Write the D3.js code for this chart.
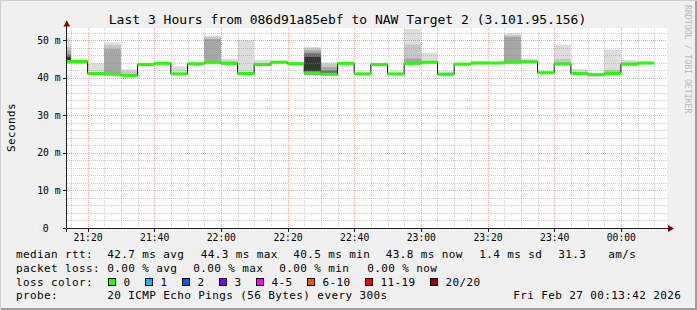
<!DOCTYPE html>
<html><head><meta charset="utf-8">
<script src="https://cdn.jsdelivr.net/npm/d3@7"></script>
<style>
body{margin:0;background:#f0f0f0}
svg{display:block}
text{font-family:"DejaVu Sans Mono",monospace}
</style>
</head><body><svg id="c" width="697" height="310"></svg>
<script>
// ---- data ----
const binEnd = ["21:15","21:20","21:25","21:30","21:35","21:40","21:45","21:50","21:55","22:00",
  "22:05","22:10","22:15","22:20","22:25","22:30","22:35","22:40","22:45","22:50",
  "22:55","23:00","23:05","23:10","23:15","23:20","23:25","23:30","23:35","23:40",
  "23:45","23:50","23:55","00:00","00:05","00:10"];
const median  = [44.4,44.4,41.2,41.0,40.6,43.6,43.9,41.1,43.8,44.2,43.9,41.2,43.6,44.2,43.8,41.4,41.0,43.9,41.1,43.6,41.1,43.9,44.2,41.0,43.7,44.0,44.0,44.3,44.3,41.4,43.8,41.2,40.9,41.2,43.7,44.0];
const pingMin = [43.7,43.9,41.0,40.7,40.4,43.2,43.6,40.9,43.3,43.6,43.4,40.9,43.2,43.9,43.6,40.6,40.6,43.3,40.9,43.4,40.8,43.4,43.7,40.7,43.4,43.6,43.8,43.6,44.0,41.2,43.3,40.9,40.3,40.8,43.3,43.6];
const pingMax = [50.8,44.9,43.9,49.5,42.3,43.9,44.3,43.1,44.1,51.3,45.1,50.1,44.8,44.4,44.2,48.3,44.2,44.2,41.3,43.9,41.3,53.1,46.7,41.8,44.0,44.5,44.2,51.9,45.2,41.8,48.9,42.4,41.3,47.6,44.8,44.3];
const l2Lo = [43.9,44.1,41.1,40.9,40.5,null,43.7,null,null,43.8,43.6,41.0,43.4,null,43.7,40.8,40.7,null,null,null,null,43.6,null,40.9,null,43.8,null,43.8,44.1,null,43.5,41.1,null,41.0,43.5,43.8];
const l2Hi = [48.3,44.7,41.5,48.8,41.8,null,44.2,null,null,50.9,44.6,41.5,44.1,null,44.1,47.9,43.7,null,null,null,null,48.9,null,41.4,null,44.2,null,51.4,44.8,null,45.1,41.7,null,42.2,44.3,44.2];
const l3Lo = [44.0,null,null,41.0,40.6,null,43.8,null,null,43.9,43.8,null,null,null,null,40.9,40.8,null,null,null,null,43.7,null,40.95,null,null,null,43.9,44.2,null,null,null,null,41.1,null,null];
const l3Hi = [47.3,null,null,47.7,41.0,null,44.1,null,null,50.4,44.3,null,null,null,null,47.3,42.9,null,null,null,null,45.2,null,41.2,null,null,null,51.0,44.5,null,null,null,null,41.7,null,null];
const l4Lo = [44.1,null,null,null,null,null,null,null,null,null,null,null,null,null,null,41.0,40.9,null,null,null,null,null,null,null,null,null,null,null,null,null,null,null,null,null,null,null];
const l4Hi = [46.2,null,null,null,null,null,null,null,null,null,null,null,null,null,null,46.6,42.0,null,null,null,null,null,null,null,null,null,null,null,null,null,null,null,null,null,null,null];
const l5Lo = [44.3,null,null,null,null,null,null,null,null,null,null,null,null,null,null,41.1,40.95,null,null,null,null,null,null,null,null,null,null,null,null,null,null,null,null,null,null,null];
const l5Hi = [45.6,null,null,null,null,null,null,null,null,null,null,null,null,null,null,45.6,41.3,null,null,null,null,null,null,null,null,null,null,null,null,null,null,null,null,null,null,null];
const yTicks = [0,10,20,30,40,50];
const lossLabels = ["0","1","2","3","4-5","6-10","11-19","20/20"];
const lossColors = ["#26ff00","#00b8ff","#0059ff","#7e00ff","#ff00ff","#ff5500","#ff0000","#a10000"];
const title = "Last 3 Hours from 086d91a85ebf to NAW Target 2 (3.101.95.156)";

// ---- scales ----
const t0 = new Date(2026,1,26,21,13,42), t1 = new Date(2026,1,27,0,13,42);
const x = d3.scaleTime().domain([t0,t1]).range([66.5,666.5]);
const y = d3.scaleLinear().domain([0,53.333]).range([228,28]);
const parseT = s => { const [h,m] = s.split(":").map(Number); return h < 12 ? new Date(2026,1,27,h,m) : new Date(2026,1,26,h,m); };
const ends = binEnd.map(parseT);
const starts = ends.map(d => new Date(Math.max(+t0, +d - 300000)));

const svg = d3.select("#c");
// background and frame
svg.append("rect").attr("width",697).attr("height",310).attr("fill","#f0f0f0");
svg.append("path").attr("d","M0,309V0H697").attr("stroke","#cfcfcf").attr("stroke-width",2).attr("fill","none");
svg.append("path").attr("d","M1,309H696V1").attr("stroke","#9e9e9e").attr("stroke-width",2).attr("fill","none");
// canvas
svg.append("rect").attr("x",67).attr("y",28).attr("width",600).attr("height",200).attr("fill","#ffffff");

// smoke
const layers = [[pingMin,pingMax,"#dddddd"],[l2Lo,l2Hi,"#c6c6c6"],[l3Lo,l3Hi,"#a6a6a6"],[l4Lo,l4Hi,"#6e6e6e"],[l5Lo,l5Hi,"#363636"]];
const gS = svg.append("g");
layers.forEach(([lo,hi,col]) => {
  gS.selectAll(null).data(d3.range(binEnd.length).filter(i => lo[i] != null))
    .join("rect")
    .attr("x", i => x(starts[i])).attr("width", i => x(ends[i]) - x(starts[i]))
    .attr("y", i => y(hi[i])).attr("height", i => y(lo[i]) - y(hi[i]))
    .attr("fill", col);
});

// grid
const gG = svg.append("g").attr("shape-rendering","crispEdges");
const minorT = d3.timeMinute.every(5).range(t0,t1);
gG.selectAll(null).data(minorT.filter(d => d.getMinutes() % 20 !== 0)).join("line")
  .attr("x1", d => Math.round(x(d))+0.5).attr("x2", d => Math.round(x(d))+0.5).attr("y1",28).attr("y2",228)
  .attr("stroke","rgba(140,140,140,0.45)").attr("stroke-dasharray","1,1");
gG.selectAll(null).data(d3.range(2,54,2).filter(v => v % 10 !== 0)).join("line")
  .attr("y1", d => Math.round(y(d))+0.5).attr("y2", d => Math.round(y(d))+0.5).attr("x1",67).attr("x2",667)
  .attr("stroke","rgba(140,140,140,0.45)").attr("stroke-dasharray","1,1");
const majorT = d3.timeMinute.every(20).range(t0,t1);
gG.selectAll(null).data(majorT).join("line")
  .attr("x1", d => Math.round(x(d))+0.5).attr("x2", d => Math.round(x(d))+0.5).attr("y1",28).attr("y2",228)
  .attr("stroke","rgba(235,60,60,0.45)").attr("stroke-dasharray","1,1");
gG.selectAll(null).data(yTicks.filter(v => v > 0)).join("line")
  .attr("y1", d => Math.round(y(d))+0.5).attr("y2", d => Math.round(y(d))+0.5).attr("x1",67).attr("x2",667)
  .attr("stroke","rgba(235,60,60,0.45)").attr("stroke-dasharray","1,1");

// median line (black step) and loss-coloured segments
const pts = median.map((m,i) => [x(starts[i]), y(m)]);
pts.push([x(ends[ends.length-1]), y(median[median.length-1])]);
svg.append("path").attr("d", d3.line().curve(d3.curveStepAfter)(pts))
  .attr("fill","none").attr("stroke","#202020").attr("stroke-width",1);
svg.append("g").selectAll("line").data(median).join("line")
  .attr("x1",(d,i) => x(starts[i])).attr("x2",(d,i) => x(ends[i]))
  .attr("y1", d => y(d)).attr("y2", d => y(d))
  .attr("stroke", lossColors[0]).attr("stroke-width",3);

// axes
const gA = svg.append("g").attr("shape-rendering","crispEdges");
gA.append("line").attr("x1",66.5).attr("x2",66.5).attr("y1",232).attr("y2",25).attr("stroke","#202020");
gA.append("line").attr("x1",63).attr("x2",669).attr("y1",228.5).attr("y2",228.5).attr("stroke","#202020");
gA.selectAll(null).data(yTicks).join("line")
  .attr("x1",63).attr("x2",67).attr("y1", d => Math.round(y(d))+0.5).attr("y2", d => Math.round(y(d))+0.5).attr("stroke","#202020");
gA.selectAll(null).data(majorT).join("line")
  .attr("x1", d => Math.round(x(d))+0.5).attr("x2", d => Math.round(x(d))+0.5).attr("y1",228).attr("y2",232).attr("stroke","#202020");
svg.append("path").attr("d","M63.5,26.5L66.8,20.5L70,26.5Z").attr("fill","#800000");
svg.append("path").attr("d","M668,225L674,228.5L668,232Z").attr("fill","#800000");

// tick labels
svg.append("g").selectAll("text").data(yTicks).join("text")
  .attr("x", d => d === 0 ? 48.5 : 60.5).attr("y", d => y(d)+3.5).attr("text-anchor","end")
  .attr("font-size","9.7px").attr("fill","#000").text(d => d === 0 ? "0" : d + " m");
svg.append("g").selectAll("text").data(majorT).join("text")
  .attr("x", d => x(d)+0.5).attr("y",241).attr("text-anchor","middle")
  .attr("font-size","9.7px").attr("fill","#000").text(d => d3.timeFormat("%H:%M")(d));

// title, labels
svg.append("text").attr("x",347.5).attr("y",24).attr("text-anchor","middle")
  .attr("font-size","13px").attr("fill","#000").text(title);
svg.append("text").attr("transform","translate(14.5,127.5) rotate(-90)").attr("text-anchor","middle")
  .attr("font-size","11px").attr("letter-spacing","0.4px").attr("fill","#000").text("Seconds");
svg.append("text").attr("transform","translate(685,5) rotate(90)").attr("text-anchor","start")
  .attr("font-size","8.2px").attr("fill","#b8b8b8").text("RRDTOOL / TOBI OETIKER");

// legend
const lg = svg.append("g").attr("font-size","11px").attr("letter-spacing","0.38px").attr("fill","#000");
const leg = [
  [257.5, [[16,"median rtt:"],[107.3,"42.7 ms avg"],[200.7,"44.3 ms max"],[293.3,"40.5 ms min"],[385.7,"43.8 ms now"],[479.3,"1.4 ms sd"],[558.3,"31.3"],[608.3,"am/s"]]],
  [271.5, [[16,"packet loss:"],[107.3,"0.00 % avg"],[193.3,"0.00 % max"],[279.3,"0.00 % min"],[367.3,"0.00 % now"]]],
  [285.5, [[16,"loss color:"]]],
  [299, [[16,"probe:"],[107.3,"20 ICMP Echo Pings (56 Bytes) every 300s"],[513.3,"Fri Feb 27 00:13:42 2026"]]]
];
leg.forEach(([yy,items]) => items.forEach(([xx,t]) => lg.append("text").attr("x",xx).attr("y",yy).attr("xml:space","preserve").text(t)));
const sqX = [108.5,145.5,182.5,219.5,256.5,307.5,365.5,430.5];
lossLabels.forEach((lab,i) => {
  lg.append("rect").attr("x",sqX[i]).attr("y",278.5).attr("width",7).attr("height",7)
    .attr("fill",lossColors[i]).attr("stroke","#000").attr("stroke-width",1).attr("shape-rendering","crispEdges");
  lg.append("text").attr("x",sqX[i]+15).attr("y",285.5).text(lab);
});
</script>
</body></html>
